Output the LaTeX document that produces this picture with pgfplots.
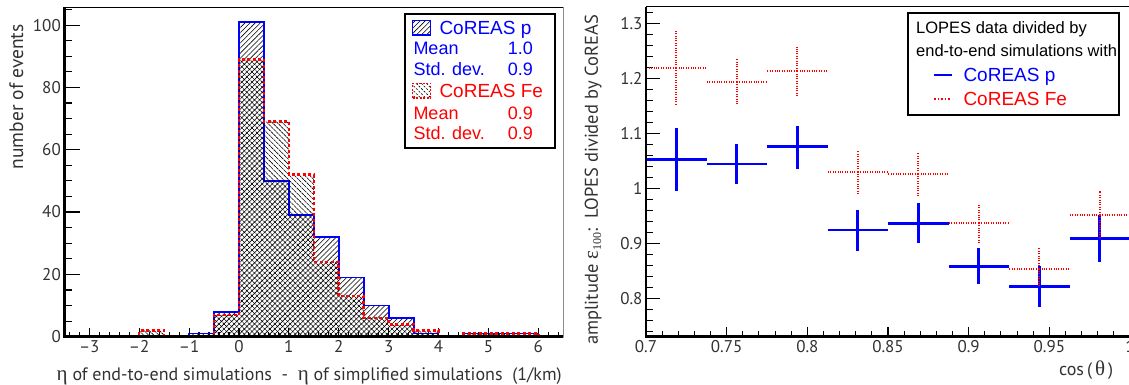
\documentclass[border=0pt]{standalone}
\usepackage{pgfplots}
\pgfplotsset{compat=1.18}
\usepackage{pgfplotstable}
\usetikzlibrary{patterns.meta}
\usepackage{fontspec}
\setmainfont{PT Sans}
\newfontfamily\lib{Liberation Sans}
\newfontfamily\ser{Liberation Serif}
\definecolor{rblue}{RGB}{0,0,255}
\definecolor{rred}{RGB}{255,0,0}
\definecolor{txt}{RGB}{50,50,50}
\newcommand{\grk}[1]{{\ser\fontsize{21}{20}\selectfont #1}}

\pgfplotstableread{
x p fe
-3.5 0 0
-3.0 0 0
-2.5 0 0
-2.0 0 2
-1.5 0 0
-1.0 1 0
-0.5 8 7
0.0 101 89
0.5 50 69
1.0 39 52
1.5 32 24
2.0 19 13
2.5 10 6
3.0 6 4
3.5 1 2
4.0 0 0
4.5 1 1
5.0 1 1
5.5 1 1
6.0 0 0
6.5 0 0
}\hist

\pgfplotstableread{
x y ep em
0.71875 1.0527 0.0563 0.0577
0.75625 1.0442 0.0364 0.0363
0.79375 1.0752 0.0381 0.0400
0.83125 0.9242 0.0364 0.0375
0.86875 0.9364 0.0363 0.0352
0.90625 0.8576 0.0333 0.0321
0.94375 0.8212 0.0382 0.0364
0.98125 0.9091 0.0424 0.0437
}\pdata

\pgfplotstableread{
x y ep em
0.71875 1.2188 0.0679 0.0679
0.75625 1.1933 0.0431 0.0436
0.79375 1.2127 0.0449 0.0479
0.83125 1.0303 0.0382 0.0406
0.86875 1.0267 0.0381 0.0400
0.90625 0.9370 0.0327 0.0352
0.94375 0.8539 0.0382 0.0327
0.98125 0.9515 0.0437 0.0424
}\fedata

\begin{document}
\begin{tikzpicture}
% ---------------- left panel ----------------
\begin{axis}[
  name=left, at={(64.3pt,48.3pt)}, anchor=south west,
  scale only axis, width=499pt, height=329.4pt,
  xmin=-3.5, xmax=6.5, ymin=0, ymax=105.7,
  axis line style={draw=none},
  tick align=inside, xtick pos=bottom, ytick pos=left,
  xtick={-3,-2,-1,0,1,2,3,4,5,6},
  xticklabels={–3,–2,–1,0,1,2,3,4,5,6},
  minor xtick={-3.4,-3.2,...,6.4},
  ytick={0,20,40,60,80,100},
  minor ytick={5,10,...,105},
  tick style={black, line width=1.1pt},
  xtick style={/pgfplots/major tick length=9pt,/pgfplots/minor tick length=4.5pt},
  ytick style={/pgfplots/major tick length=15.5pt,/pgfplots/minor tick length=7.3pt},
  ticklabel style={font=\fontsize{17}{18}\selectfont, text=txt},
  /pgf/number format/assume math mode=true,
  xlabel={\grk{η} of end-to-end simulations~~-~~\grk{η} of simplified simulations~~(1/km)},
  ylabel={number of events},
  xlabel style={at={(axis description cs:1.004,-0.119)}, anchor=east, font=\fontsize{18}{20}\selectfont, text=txt},
  ylabel style={at={(axis description cs:-0.096,0.728)}, anchor=center, font=\fontsize{19.5}{20}\selectfont, text=txt},
  clip=false,
]
\addplot[const plot mark left, draw=rblue, line width=1.8pt,
  pattern={Lines[angle=45,distance=3.6pt,line width=0.6pt]}, pattern color=black]
  table[x=x,y=p] {\hist} \closedcycle;
\addplot[const plot mark left, draw=rred, line width=2.6pt, dash pattern=on 3pt off 2.5pt,
  pattern={Lines[angle=-45,distance=3.6pt,line width=0.6pt]}, pattern color=black]
  table[x=x,y=fe] {\hist} \closedcycle;
\end{axis}
\draw[line width=1.2pt, black] (left.north west) -- (left.north east);
\draw[line width=1.2pt, black!45] (left.north east) -- (left.south east);
\draw[line width=2.4pt, black] (left.north west) -- (left.south west) -- (left.south east);

% ---------------- right panel ----------------
\begin{axis}[
  name=right, at={(646pt,48.5pt)}, anchor=south west,
  scale only axis, width=484pt, height=329.8pt,
  xmin=0.7, xmax=1.0, ymin=0.7305, ymax=1.33,
  axis line style={draw=none},
  tick align=inside, xtick pos=bottom, ytick pos=left,
  xtick={0.7,0.75,0.8,0.85,0.9,0.95,1},
  xticklabels={0.7,0.75,0.8,0.85,0.9,0.95,1},
  minor xtick={0.71,0.72,0.73,0.74,0.76,0.77,0.78,0.79,0.81,0.82,0.83,0.84,0.86,0.87,0.88,0.89,0.91,0.92,0.93,0.94,0.96,0.97,0.98,0.99},
  ytick={0.8,0.9,1,1.1,1.2,1.3},
  yticklabels={0.8,0.9,1,1.1,1.2,1.3},
  minor ytick={0.74,0.76,0.78,0.82,0.84,0.86,0.88,0.92,0.94,0.96,0.98,1.02,1.04,1.06,1.08,1.12,1.14,1.16,1.18,1.22,1.24,1.26,1.28,1.32},
  tick style={black, line width=1.1pt},
  xtick style={/pgfplots/major tick length=9pt,/pgfplots/minor tick length=5pt},
  ytick style={/pgfplots/major tick length=14pt,/pgfplots/minor tick length=6.7pt},
  ticklabel style={font=\fontsize{17}{18}\selectfont, text=txt},
  /pgf/number format/assume math mode=true,
  xlabel={cos\,(\,\grk{θ}\,)},
  ylabel={amplitude \grk{ε}\raisebox{-0.35ex}{\ser\fontsize{12}{12}\selectfont 100}:~~LOPES divided by CoREAS},
  xlabel style={at={(axis description cs:0.9725,-0.1016)}, anchor=east, font=\fontsize{18}{20}\selectfont, text=txt},
  ylabel style={at={(axis description cs:-0.1089,0.475)}, anchor=center, font=\fontsize{18.5}{20}\selectfont, text=txt},
  clip=false,
]
\addplot[draw=none, mark=none,
  error bars/.cd, x dir=both, x fixed=0.01875, y dir=both, y explicit,
  error mark=none, error bar style={draw=rblue, line width=2.8pt}]
  table[x=x, y=y, y error plus=ep, y error minus=em] {\pdata};
\addplot[draw=none, mark=none,
  error bars/.cd, x dir=both, x fixed=0.01875, y dir=both, y explicit,
  error mark=none, error bar style={draw=rred, line width=2pt, dash pattern=on 1pt off 1.4pt}]
  table[x=x, y=y, y error plus=ep, y error minus=em] {\fedata};
\end{axis}
\draw[line width=1.6pt, black] (right.north west) -- (right.north east);
\draw[line width=2.4pt, black] (right.north west) -- (right.south west) -- (right.south east);

\begin{scope}[x=1pt,y=1pt]
% left legend
\draw[line width=2pt, fill=white] (405,371) rectangle (555,237.3);
\draw[rblue, line width=1.4pt, pattern={Lines[angle=45,distance=3.6pt,line width=0.6pt]}, pattern color=black] (412.7,350) rectangle (430.7,364.3);
\node[anchor=base west, inner sep=0, text=rblue, font=\lib\fontsize{19}{20}\selectfont] at (439.3,350.3) {CoREAS p};
\node[anchor=base west, inner sep=0, text=rblue, font=\lib\fontsize{18}{20}\selectfont] at (413.3,330.3) {Mean};
\node[anchor=base west, inner sep=0, text=rblue, font=\lib\fontsize{18}{20}\selectfont] at (507.7,330.3) {1.0};
\node[anchor=base west, inner sep=0, text=rblue, font=\lib\fontsize{18}{20}\selectfont] at (413.3,309.6) {Std. dev.};
\node[anchor=base west, inner sep=0, text=rblue, font=\lib\fontsize{18}{20}\selectfont] at (507.7,309.6) {0.9};
\draw[rred, line width=1.4pt, dash pattern=on 2pt off 1.5pt, pattern={Lines[angle=-45,distance=3.6pt,line width=0.6pt]}, pattern color=black] (412.7,287) rectangle (430.7,301.5);
\node[anchor=base west, inner sep=0, text=rred, font=\lib\fontsize{19}{20}\selectfont] at (439.3,287.9) {CoREAS Fe};
\node[anchor=base west, inner sep=0, text=rred, font=\lib\fontsize{18}{20}\selectfont] at (413.3,265.9) {Mean};
\node[anchor=base west, inner sep=0, text=rred, font=\lib\fontsize{18}{20}\selectfont] at (507.7,265.9) {0.9};
\node[anchor=base west, inner sep=0, text=rred, font=\lib\fontsize{18}{20}\selectfont] at (413.3,245.3) {Std. dev.};
\node[anchor=base west, inner sep=0, text=rred, font=\lib\fontsize{18}{20}\selectfont] at (507.7,245.3) {0.9};

% right legend
\draw[line width=2pt, fill=white] (908.3,372.3) rectangle (1119,270);
\node[anchor=base west, inner sep=0, text=black, font=\lib\fontsize{16.5}{18}\selectfont] at (916,351.6) {LOPES data divided by};
\node[anchor=base west, inner sep=0, text=black, font=\lib\fontsize{16.5}{18}\selectfont] at (916,328.9) {end-to-end simulations with};
\draw[rblue, line width=2.5pt] (934.3,310) -- (951.7,310);
\node[anchor=base west, inner sep=0, text=rblue, font=\lib\fontsize{19}{20}\selectfont] at (963.3,303.4) {CoREAS p};
\draw[rred, line width=2pt, dash pattern=on 1.5pt off 2pt] (934.3,285.7) -- (951.7,285.7);
\node[anchor=base west, inner sep=0, text=rred, font=\lib\fontsize{19}{20}\selectfont] at (963.3,279.1) {CoREAS Fe};

\pgfresetboundingbox
\useasboundingbox (0,0) rectangle (1129,385);
\end{scope}
\end{tikzpicture}
\end{document}
